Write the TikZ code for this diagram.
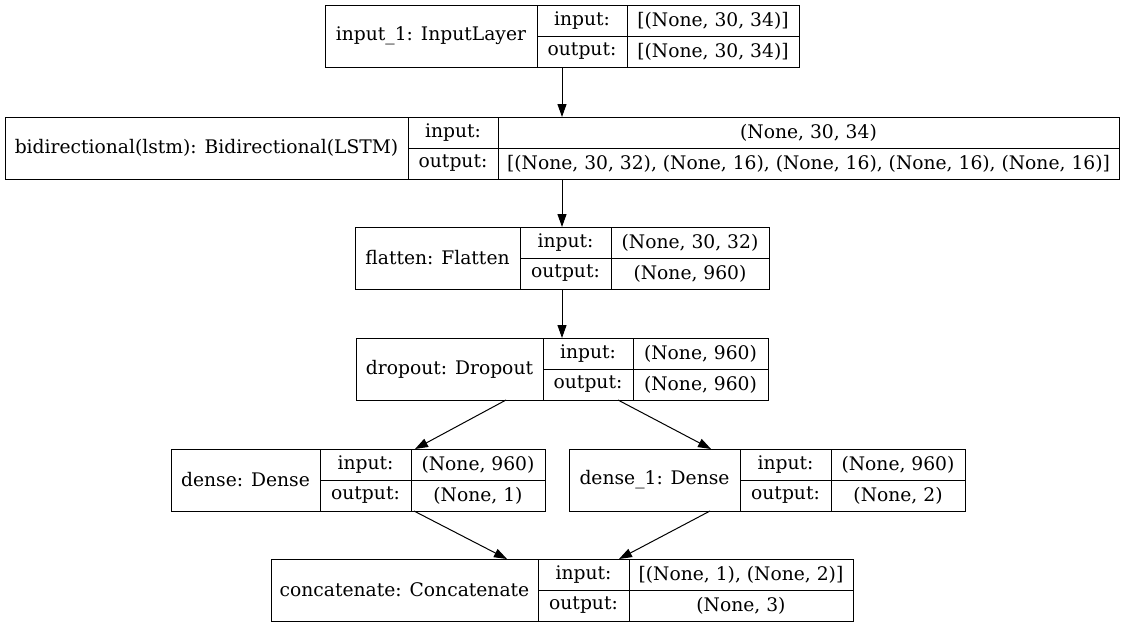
\documentclass[tikz,border=0pt]{standalone}
\usepackage{fontspec}
\setmainfont{DejaVu Serif}
\usepackage{tikz}
\usetikzlibrary{
  arrows.meta,
  positioning,
  fit
}

\begin{document}
\begin{tikzpicture}[
  x=1pt, y=-1pt,
  font=\fontsize{18.7}{21}\selectfont,
  cell/.style={
    draw, line width=1pt,
    anchor=north west, inner sep=0pt,
    outer sep=0pt, align=center
  },
  half/.style={cell,
    minimum height=31pt},
  full/.style={cell,
    minimum height=62pt},
  layer/.style={
    inner sep=0pt, outer sep=0pt},
  arrow/.style={
    -{Triangle[length=13pt, width=9pt]},
    line width=1pt}
]

\useasboundingbox (0,0) rectangle (1124,627);

% input layer
\node[full, minimum width=212pt] (inp-name) at (325,5)
  {input\_1: InputLayer};
\node[half, minimum width=90pt] (inp-il) at (537,5) {input:};
\node[half, minimum width=90pt] (inp-ol) at (537,36) {output:};
\node[half, minimum width=172pt] (inp-iv) at (627,5)
  {[(None, 30, 34)]};
\node[half, minimum width=172pt] (inp-ov) at (627,36)
  {[(None, 30, 34)]};
\node[layer, fit=(inp-name)(inp-ov)] (inp) {};

% bidirectional lstm
\node[full, minimum width=403pt] (bi-name) at (5,117)
  {bidirectional(lstm): Bidirectional(LSTM)};
\node[half, minimum width=90pt] (bi-il) at (408,117) {input:};
\node[half, minimum width=90pt] (bi-ol) at (408,148) {output:};
\node[half, minimum width=621pt] (bi-iv) at (498,117)
  {(None, 30, 34)};
\node[half, minimum width=621pt] (bi-ov) at (498,148)
  {[(None, 30, 32), (None, 16), (None, 16), (None, 16), (None, 16)]};
\node[layer, fit=(bi-name)(bi-ov)] (bi) {};

% flatten
\node[full, minimum width=165pt] (fl-name) at (355,227)
  {flatten: Flatten};
\node[half, minimum width=91pt] (fl-il) at (520,227) {input:};
\node[half, minimum width=91pt] (fl-ol) at (520,258) {output:};
\node[half, minimum width=158pt] (fl-iv) at (611,227)
  {(None, 30, 32)};
\node[half, minimum width=158pt] (fl-ov) at (611,258)
  {(None, 960)};
\node[layer, fit=(fl-name)(fl-ov)] (fl) {};

% dropout
\node[full, minimum width=187pt] (drop-name) at (356,338)
  {dropout: Dropout};
\node[half, minimum width=90pt] (drop-il) at (543,338) {input:};
\node[half, minimum width=90pt] (drop-ol) at (543,369) {output:};
\node[half, minimum width=135pt] (drop-iv) at (633,338)
  {(None, 960)};
\node[half, minimum width=135pt] (drop-ov) at (633,369)
  {(None, 960)};
\node[layer, fit=(drop-name)(drop-ov)] (drop) {};

% dense
\node[full, minimum width=149pt] (den-name) at (171,449)
  {dense: Dense};
\node[half, minimum width=91pt] (den-il) at (320,449) {input:};
\node[half, minimum width=91pt] (den-ol) at (320,480) {output:};
\node[half, minimum width=134pt] (den-iv) at (411,449)
  {(None, 960)};
\node[half, minimum width=134pt] (den-ov) at (411,480)
  {(None, 1)};
\node[layer, fit=(den-name)(den-ov)] (den) {};

% dense_1
\node[full, minimum width=171pt] (den1-name) at (569,449)
  {dense\_1: Dense};
\node[half, minimum width=91pt] (den1-il) at (740,449) {input:};
\node[half, minimum width=91pt] (den1-ol) at (740,480) {output:};
\node[half, minimum width=134pt] (den1-iv) at (831,449)
  {(None, 960)};
\node[half, minimum width=134pt] (den1-ov) at (831,480)
  {(None, 2)};
\node[layer, fit=(den1-name)(den1-ov)] (den1) {};

% concatenate
\node[full, minimum width=267pt] (cat-name) at (271,559)
  {concatenate: Concatenate};
\node[half, minimum width=91pt] (cat-il) at (538,559) {input:};
\node[half, minimum width=91pt] (cat-ol) at (538,590) {output:};
\node[half, minimum width=224pt] (cat-iv) at (629,559)
  {[(None, 1), (None, 2)]};
\node[half, minimum width=224pt] (cat-ov) at (629,590)
  {(None, 3)};
\node[layer, fit=(cat-name)(cat-ov)] (cat) {};

\draw[arrow] (inp.south) -- (bi.north);
\draw[arrow] (bi.south) -- (fl.north);
\draw[arrow] (fl.south) -- (drop.north);
\draw[arrow] ([xshift=-56pt]drop.south) -- ([xshift=57pt]den.north);
\draw[arrow] ([xshift=56pt]drop.south) -- ([xshift=-56pt]den1.north);
\draw[arrow] ([xshift=56pt]den.south) -- ([xshift=-55pt]cat.north);
\draw[arrow] ([xshift=-57pt]den1.south) -- ([xshift=57pt]cat.north);

\end{tikzpicture}
\end{document}
